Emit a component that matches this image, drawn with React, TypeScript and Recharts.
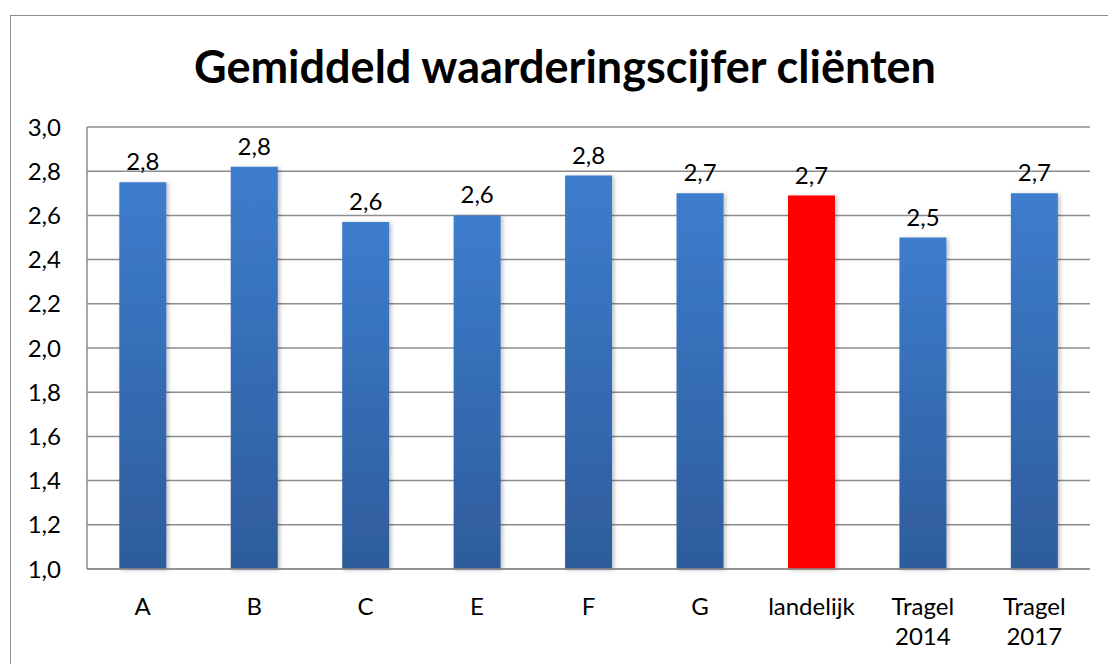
import { BarChart, Bar, XAxis, YAxis, CartesianGrid, LabelList, Cell } from 'recharts'

const categories = ['A', 'B', 'C', 'E', 'F', 'G', 'landelijk', 'Tragel 2014', 'Tragel 2017']
const scores = [2.75, 2.82, 2.57, 2.6, 2.78, 2.7, 2.69, 2.5, 2.7]
const highlighted = ['landelijk']
const yTicks = [1.0, 1.2, 1.4, 1.6, 1.8, 2.0, 2.2, 2.4, 2.6, 2.8, 3.0]

const data = categories.map((name, i) => ({ name, score: scores[i] }))

const FONT = 'Lato, "Open Sans", sans-serif'
const GRID = '#8c8c8c'

const fmt = (v: number) => v.toFixed(1).replace('.', ',')

function CategoryTick(props: any) {
  const { x, y, payload } = props
  const lines = String(payload.value).split(' ')
  return (
    <text x={x} y={y} textAnchor="middle" fill="#000" fontSize={24} fontFamily={FONT}>
      {lines.map((line, i) => (
        <tspan key={i} x={x} dy={i === 0 ? 38 : 30}>
          {line}
        </tspan>
      ))}
    </text>
  )
}

export default function App() {
  return (
    <div style={{ position: 'absolute', left: 0, top: 0, width: 1108, height: 664, background: '#fff', overflow: 'hidden' }}>
      <div
        style={{
          position: 'absolute',
          left: 10,
          top: 15,
          width: 1120,
          height: 680,
          borderLeft: `1.5px solid ${GRID}`,
          borderTop: `1.5px solid ${GRID}`,
        }}
      />
      <div
        style={{
          position: 'absolute',
          left: 0,
          top: 36,
          width: 1130,
          textAlign: 'center',
          fontFamily: FONT,
          fontWeight: 700,
          fontSize: 45,
          color: '#000',
          lineHeight: '60px',
        }}
      >
        Gemiddeld waarderingscijfer cliënten
      </div>
      <div style={{ position: 'absolute', left: 0, top: 0 }}>
        <BarChart width={1108} height={664} data={data} margin={{ top: 127, right: 18, bottom: 0, left: 0 }} barCategoryGap="29%">
          <defs>
            <linearGradient id="blueFill" x1="0" y1="0" x2="0" y2="1">
              <stop offset="0%" stopColor="#3d7dcd" />
              <stop offset="100%" stopColor="#2e5c9b" />
            </linearGradient>
            <filter id="barShadow" x="-20%" y="-5%" width="140%" height="110%">
              <feDropShadow dx="2" dy="1" stdDeviation="2" floodColor="#000" floodOpacity="0.25" />
            </filter>
          </defs>
          <CartesianGrid horizontal vertical={false} stroke={GRID} strokeWidth={1.5} />
          <XAxis
            dataKey="name"
            axisLine={{ stroke: GRID, strokeWidth: 1.5 }}
            tickLine={false}
            interval={0}
            tick={<CategoryTick />}
            height={95}
          />
          <YAxis
            domain={[1, 3]}
            ticks={yTicks}
            interval={0}
            tickFormatter={fmt}
            axisLine={{ stroke: GRID, strokeWidth: 1.5 }}
            tickLine={false}
            tickSize={6}
            tickMargin={20}
            width={87}
            tick={{ fill: '#000', fontSize: 24, fontFamily: FONT }}
          />
          <Bar dataKey="score" isAnimationActive={false} filter="url(#barShadow)">
            {data.map((d) => (
              <Cell key={d.name} fill={highlighted.includes(d.name) ? '#ff0000' : 'url(#blueFill)'} />
            ))}
            <LabelList
              dataKey="score"
              position="top"
              offset={12}
              formatter={(v: any) => fmt(Number(v))}
              style={{ fill: '#000', fontSize: 24, fontFamily: FONT }}
            />
          </Bar>
        </BarChart>
      </div>
    </div>
  )
}
